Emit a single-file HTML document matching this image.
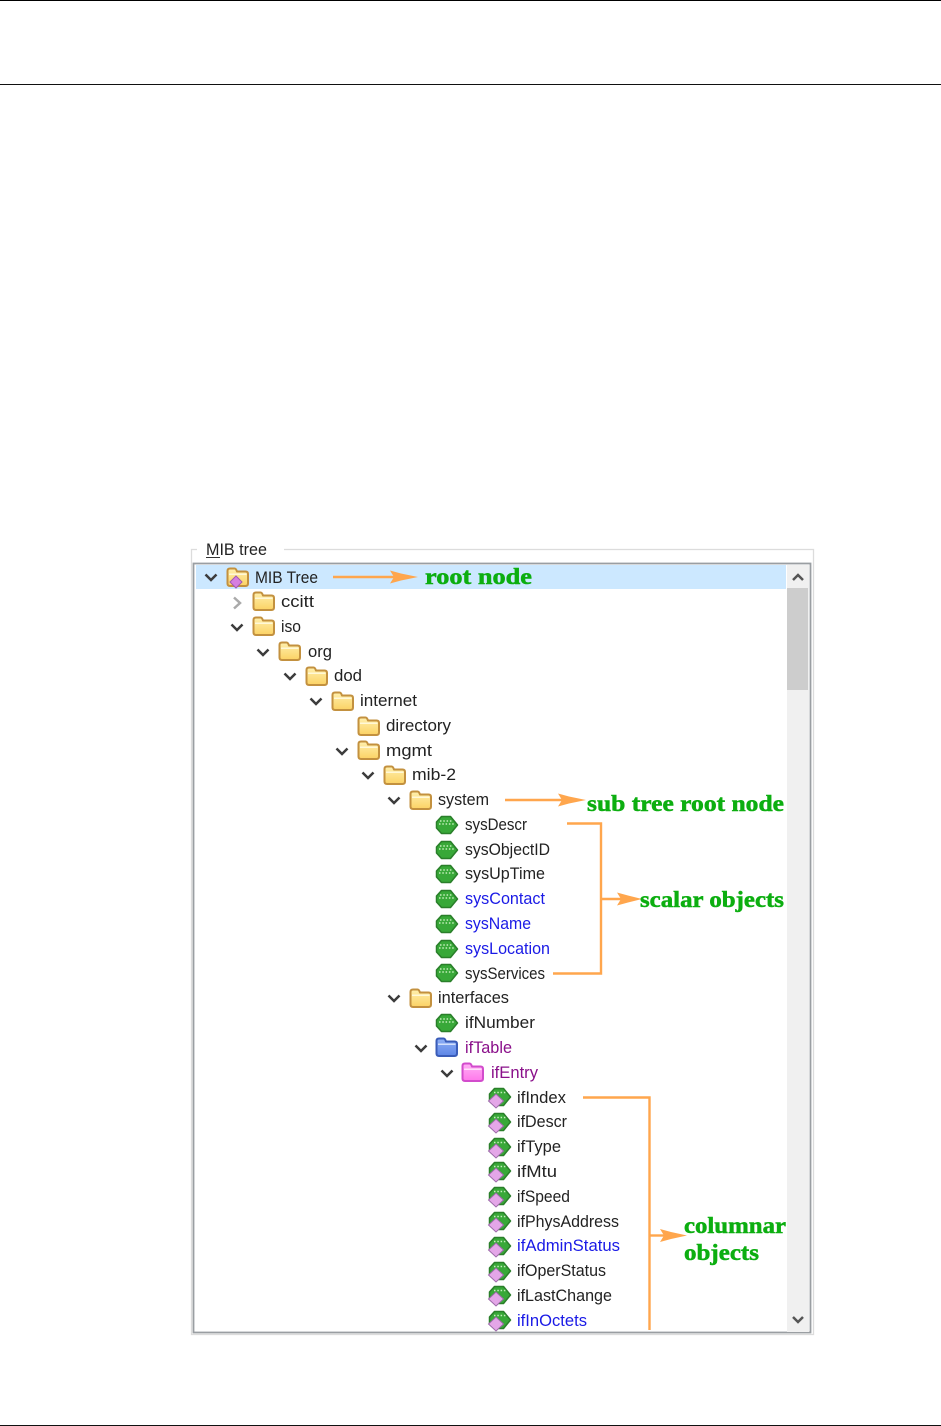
<!DOCTYPE html>
<html><head><meta charset="utf-8"><style>
html,body{margin:0;padding:0;background:#fff;width:941px;height:1426px;overflow:hidden}
svg{display:block}
text{font-family:"Liberation Sans",sans-serif;font-size:16.6px;fill:#222}
.b{fill:#1a1ae6}.p{fill:#8a108a}
.g{font-family:"Liberation Serif",serif;font-weight:bold;font-size:23px;fill:#0cae10;stroke:#0cae10;stroke-width:.5}
.c{fill:none;stroke:#3c3c3c;stroke-width:2.5}
.o{fill:none;stroke:#ffa64d;stroke-width:2.4}
.a{fill:#ffa64d}
#t{filter:blur(.3px)}
</style></head><body>
<svg width="941" height="1426" viewBox="0 0 941 1426" xmlns="http://www.w3.org/2000/svg">
<defs>
<linearGradient id="gy" x1="0" y1="0" x2="0" y2="1"><stop offset="0" stop-color="#fff0ae"/><stop offset="1" stop-color="#fbd264"/></linearGradient>
<linearGradient id="gb" x1="0" y1="0" x2="0" y2="1"><stop offset="0" stop-color="#8fb0f5"/><stop offset="1" stop-color="#5d85e6"/></linearGradient>
<linearGradient id="gp" x1="0" y1="0" x2="0" y2="1"><stop offset="0" stop-color="#ffb0f5"/><stop offset="1" stop-color="#ff78ea"/></linearGradient>
<symbol id="f" width="24" height="22" viewBox="0 0 24 22" overflow="visible"><path d="M1.500 17.500V5Q1.500 2.500 4 2.500H8.500Q10 2.500 11 5.500H19.500Q22 5.500 22 8V17.500Q22 20 19.500 20H4Q1.500 20 1.500 17.500Z" fill="url(#gy)" stroke="#c3913f" stroke-width="2" stroke-linejoin="round"/><rect x="3" y="7.500" width="17.500" height="1.500" fill="#fff8d8"/></symbol>
<symbol id="fb" width="24" height="22" viewBox="0 0 24 22" overflow="visible"><path d="M1.500 17.500V5Q1.500 2.500 4 2.500H8.500Q10 2.500 11 5.500H19.500Q22 5.500 22 8V17.500Q22 20 19.500 20H4Q1.500 20 1.500 17.500Z" fill="url(#gb)" stroke="#3a5cb8" stroke-width="2" stroke-linejoin="round"/><rect x="3" y="7.500" width="17.500" height="1.500" fill="#d3e0fc"/></symbol>
<symbol id="fp" width="24" height="22" viewBox="0 0 24 22" overflow="visible"><path d="M1.500 17.500V5Q1.500 2.500 4 2.500H8.500Q10 2.500 11 5.500H19.500Q22 5.500 22 8V17.500Q22 20 19.500 20H4Q1.500 20 1.500 17.500Z" fill="url(#gp)" stroke="#d24ccc" stroke-width="2" stroke-linejoin="round"/><rect x="3" y="7.500" width="17.500" height="1.500" fill="#ffe0fb"/></symbol>
<symbol id="s" width="24" height="22" viewBox="0 0 24 22" overflow="visible"><path d="M1.500 8L6.500 2.500H15.500L22.500 11L15.500 19.500H6.500L1.500 14Z" fill="#38a838" stroke="#2a7f2a" stroke-width="1.500" stroke-linejoin="round"/><path d="M5 7H17M4 10H20" stroke="#c4eebb" stroke-width="1.500" stroke-dasharray="1.500 1.800"/></symbol>
<symbol id="m" width="24" height="22" viewBox="0 0 24 22" overflow="visible"><path d="M1.500 8L6.500 2.500H15.500L22.500 11L15.500 19.500H6.500L1.500 14Z" fill="#38a838" stroke="#2a7f2a" stroke-width="1.500" stroke-linejoin="round"/><path d="M6 6.500H18" stroke="#c4eebb" stroke-width="1.500" stroke-dasharray="1.500 1.800"/><path d="M8 8L15.500 15L8 22L.5 15Z" fill="#e4a6e8" stroke="#9c6aa8" stroke-width="1"/></symbol>
<symbol id="d" width="14" height="10" viewBox="0 0 14 10" overflow="visible"><path d="M1.500 1.500L7 7L12.500 1.500" class="c"/></symbol>
</defs>

<rect x="0" y="0" width="941" height="1" fill="#000"/>
<rect x="0" y="84" width="941" height="1" fill="#111"/>
<rect x="0" y="1425" width="941" height="1" fill="#111"/>

<g id="t">
<!-- group box -->
<path d="M197 549.500H191.500V1334.500H813.500V549.500H284" fill="none" stroke="#dcdcdc" stroke-width="1.300"/>
<text x="206" y="555" textLength="61" lengthAdjust="spacingAndGlyphs">MIB tree</text>
<rect x="206" y="557" width="14" height="1" fill="#333"/>

<!-- tree box -->
<rect x="193.500" y="563.500" width="617" height="769" fill="#fff" stroke="#9a9ea2" stroke-width="1.800"/>
<rect x="196" y="565" width="590" height="24" fill="#cce8ff"/>
<rect x="787" y="565" width="22" height="767" fill="#f0f0f0"/>
<rect x="787" y="588" width="21" height="102" fill="#cdcdcd"/>
<path d="M793 580L798 575L803 580" fill="none" stroke="#555" stroke-width="2.500"/>
<path d="M793 1317L798 1322L803 1317" fill="none" stroke="#555" stroke-width="2.500"/>

<!-- chevrons -->
<use href="#d" x="204" y="573"/>
<path d="M234 597.500L240 603L234 608.500" fill="none" stroke="#aaa" stroke-width="2.500"/>
<use href="#d" x="230" y="623"/>
<use href="#d" x="256" y="648"/>
<use href="#d" x="283" y="672"/>
<use href="#d" x="309" y="697"/>
<use href="#d" x="335" y="747"/>
<use href="#d" x="361" y="771"/>
<use href="#d" x="387" y="796"/>
<use href="#d" x="387" y="994"/>
<use href="#d" x="414" y="1044"/>
<use href="#d" x="440" y="1069"/>

<!-- root icon -->
<use href="#f" x="226" y="566"/>
<path d="M236 576L242 582L236 588L230 582Z" fill="#d67fe0" stroke="#a05ab0" stroke-width="1"/>

<!-- folders -->
<use href="#f" x="252" y="590"/>
<use href="#f" x="252" y="615"/>
<use href="#f" x="278" y="640"/>
<use href="#f" x="305" y="665"/>
<use href="#f" x="331" y="690"/>
<use href="#f" x="357" y="715"/>
<use href="#f" x="357" y="739"/>
<use href="#f" x="383" y="764"/>
<use href="#f" x="409" y="789"/>
<use href="#f" x="409" y="987"/>
<use href="#fb" x="435" y="1036"/>
<use href="#fp" x="461" y="1061"/>

<!-- scalars -->
<use href="#s" x="435" y="814"/>
<use href="#s" x="435" y="839"/>
<use href="#s" x="435" y="863"/>
<use href="#s" x="435" y="888"/>
<use href="#s" x="435" y="913"/>
<use href="#s" x="435" y="938"/>
<use href="#s" x="435" y="962"/>
<use href="#s" x="435" y="1012"/>

<!-- columnar -->
<use href="#m" x="488" y="1086"/>
<use href="#m" x="488" y="1111"/>
<use href="#m" x="488" y="1136"/>
<use href="#m" x="488" y="1160"/>
<use href="#m" x="488" y="1185"/>
<use href="#m" x="488" y="1210"/>
<use href="#m" x="488" y="1235"/>
<use href="#m" x="488" y="1260"/>
<use href="#m" x="488" y="1284"/>
<use href="#m" x="488" y="1309"/>

<!-- labels -->
<text x="255" y="583" textLength="63" lengthAdjust="spacingAndGlyphs">MIB Tree</text>
<text x="281" y="607" textLength="33" lengthAdjust="spacingAndGlyphs">ccitt</text>
<text x="281" y="632" textLength="20" lengthAdjust="spacingAndGlyphs">iso</text>
<text x="308" y="657" textLength="24" lengthAdjust="spacingAndGlyphs">org</text>
<text x="334" y="681" textLength="28" lengthAdjust="spacingAndGlyphs">dod</text>
<text x="360" y="706" textLength="57" lengthAdjust="spacingAndGlyphs">internet</text>
<text x="386" y="731" textLength="65" lengthAdjust="spacingAndGlyphs">directory</text>
<text x="386" y="756" textLength="46" lengthAdjust="spacingAndGlyphs">mgmt</text>
<text x="412" y="780" textLength="44" lengthAdjust="spacingAndGlyphs">mib-2</text>
<text x="438" y="805" textLength="51" lengthAdjust="spacingAndGlyphs">system</text>
<text x="465" y="830" textLength="62" lengthAdjust="spacingAndGlyphs">sysDescr</text>
<text x="465" y="855" textLength="85" lengthAdjust="spacingAndGlyphs">sysObjectID</text>
<text x="465" y="879" textLength="80" lengthAdjust="spacingAndGlyphs">sysUpTime</text>
<text class="b" x="465" y="904" textLength="80" lengthAdjust="spacingAndGlyphs">sysContact</text>
<text class="b" x="465" y="929" textLength="66" lengthAdjust="spacingAndGlyphs">sysName</text>
<text class="b" x="465" y="954" textLength="85" lengthAdjust="spacingAndGlyphs">sysLocation</text>
<text x="465" y="979" textLength="80" lengthAdjust="spacingAndGlyphs">sysServices</text>
<text x="438" y="1003" textLength="71" lengthAdjust="spacingAndGlyphs">interfaces</text>
<text x="465" y="1028" textLength="70" lengthAdjust="spacingAndGlyphs">ifNumber</text>
<text class="p" x="465" y="1053" textLength="47" lengthAdjust="spacingAndGlyphs">ifTable</text>
<text class="p" x="491" y="1078" textLength="47" lengthAdjust="spacingAndGlyphs">ifEntry</text>
<text x="517" y="1103" textLength="49" lengthAdjust="spacingAndGlyphs">ifIndex</text>
<text x="517" y="1127" textLength="50" lengthAdjust="spacingAndGlyphs">ifDescr</text>
<text x="517" y="1152" textLength="44" lengthAdjust="spacingAndGlyphs">ifType</text>
<text x="517" y="1177" textLength="40" lengthAdjust="spacingAndGlyphs">ifMtu</text>
<text x="517" y="1202" textLength="53" lengthAdjust="spacingAndGlyphs">ifSpeed</text>
<text x="517" y="1227" textLength="102" lengthAdjust="spacingAndGlyphs">ifPhysAddress</text>
<text class="b" x="517" y="1251" textLength="103" lengthAdjust="spacingAndGlyphs">ifAdminStatus</text>
<text x="517" y="1276" textLength="89" lengthAdjust="spacingAndGlyphs">ifOperStatus</text>
<text x="517" y="1301" textLength="95" lengthAdjust="spacingAndGlyphs">ifLastChange</text>
<text class="b" x="517" y="1326" textLength="70" lengthAdjust="spacingAndGlyphs">ifInOctets</text>

<!-- annotations -->
<path class="o" d="M333 577H395"/>
<path class="a" d="M390 570.500L401 573.500L418 577L401 580.500L390 583.500L394 577Z"/>
<text class="g" x="425" y="584" textLength="107" lengthAdjust="spacingAndGlyphs">root node</text>

<path class="o" d="M505 800H565"/>
<path class="a" d="M558 793.500L569 796.500L586 800L569 803.500L558 806.500L562 800Z"/>
<text class="g" x="587" y="811" textLength="197" lengthAdjust="spacingAndGlyphs">sub tree root node</text>

<path class="o" d="M567 823.500H601V973.500H553"/>
<path class="o" d="M601 899H622"/>
<path class="a" d="M617 892.500L628 895.500L642 899L628 902.500L617 905.500L621 899Z"/>
<text class="g" x="640" y="907" textLength="144" lengthAdjust="spacingAndGlyphs">scalar objects</text>

<path class="o" d="M583 1097.500H649.500V1330"/>
<path class="o" d="M650 1235.500H665"/>
<path class="a" d="M660 1229L671 1232L687 1235.500L671 1239L660 1242L664 1235.500Z"/>
<text class="g" x="684" y="1233" textLength="102" lengthAdjust="spacingAndGlyphs">columnar</text>
<text class="g" x="684" y="1260" textLength="75" lengthAdjust="spacingAndGlyphs">objects</text>
</g>
</svg>
</body></html>
